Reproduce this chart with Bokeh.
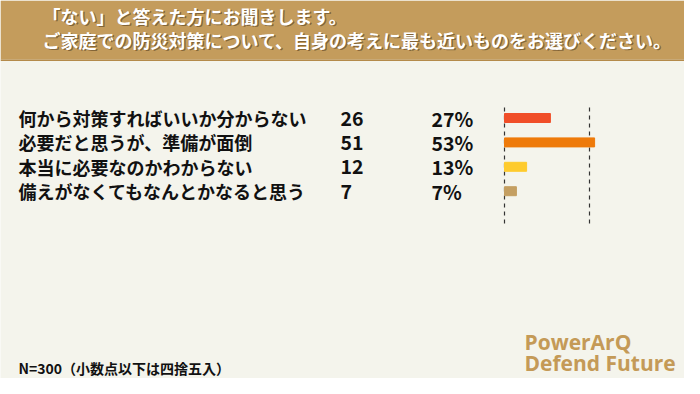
from bokeh.plotting import figure
from bokeh.models import Range1d, ColumnDataSource
from bokeh.core.properties import value
from bokeh.embed import file_html
from bokeh.resources import INLINE

# ---- data ----
title_lines = ["「ない」と答えた方にお聞きします。",
               "ご家庭での防災対策について、自身の考えに最も近いものをお選びください。"]
categories = ["何から対策すればいいか分からない",
              "必要だと思うが、準備が面倒",
              "本当に必要なのかわからない",
              "備えがなくてもなんとかなると思う"]
counts = [26, 51, 12, 7]
percents = [27, 53, 13, 7]
bar_colors = ["#F04E28", "#EE7A0A", "#FECB2E", "#C49F62"]
grid_values = [0, 50]
footnote = "N=300（小数点以下は四捨五入）"
brand_lines = ["PowerArQ", "Defend Future"]

# ---- layout constants (pixels inside the figure) ----
W, H = 684, 378
S = 1.70          # px per percent
X0 = 504          # px of 0%
ROW0 = 117.5      # px of first row centre
ROWH = 24.4       # px between rows

def px_x(px):
    return (px - X0) / S

def px_y(px):
    return (px - ROW0) / ROWH

JP = value("Noto Sans CJK JP")
BG = "#F4F4EC"
GOLD = "#C49C5C"

p = figure(width=W, height=H, output_backend="svg", toolbar_location=None,
           x_range=Range1d(px_x(0), px_x(W)), y_range=Range1d(px_y(H), px_y(0)),
           min_border=0, background_fill_color=BG, border_fill_color=BG)
p.axis.visible = False
p.grid.visible = False
p.outline_line_color = None

# header band
p.quad(left=[px_x(0)], right=[px_x(W)], top=[px_y(0)], bottom=[px_y(59)],
       fill_color=GOLD, line_color=None)
p.quad(left=[px_x(0)], right=[px_x(W)], top=[px_y(59)], bottom=[px_y(60.5)],
       fill_color="#B48A4A", line_color=None)

tsrc = ColumnDataSource(dict(x=[px_x(42), px_x(42)], y=[px_y(15), px_y(39)], t=title_lines))
p.text(x="x", y="y", text="t", source=tsrc, x_offset=1.5, y_offset=1.5,
       text_color="#4a3518", text_alpha=0.55, text_font=JP, text_font_style="bold",
       text_font_size="18px", text_baseline="middle")
p.text(x="x", y="y", text="t", source=tsrc,
       text_color="white", text_font=JP, text_font_style="bold",
       text_font_size="18px", text_baseline="middle")

# rows
idx = list(range(len(categories)))
src = ColumnDataSource(dict(
    y=idx, cat=categories,
    cnt=[str(c) for c in counts],
    pct=[f"{v}%" for v in percents],
    pv=percents, color=bar_colors,
    lx=[px_x(18)] * len(idx), cx=[px_x(340)] * len(idx), qx=[px_x(431)] * len(idx),
))
p.text(x="lx", y="y", text="cat", source=src, text_color="#111111",
       text_font=JP, text_font_style="bold", text_font_size="18px",
       text_baseline="middle", text_align="left")
for col, xcol in [("cnt", "cx"), ("pct", "qx")]:
    p.text(x=xcol, y="y", text=col, source=src, text_color="#111111",
           text_font=JP, text_font_style="bold", text_font_size="19.5px",
           text_baseline="middle", text_align="left")

# dashed reference lines
p.segment(x0=grid_values, x1=grid_values, y0=[px_y(107)] * 2, y1=[px_y(226)] * 2,
          line_color="#333333", line_width=1.2, line_dash="4 4")

# bars
p.hbar(y="y", left=0, right="pv", height=9 / ROWH, source=src,
       fill_color="color", line_color="color")

# footnote
p.text(x=[px_x(18)], y=[px_y(367)], text=[footnote], text_color="#111111",
       text_font=JP, text_font_style="bold", text_font_size="14px",
       text_baseline="middle")

# brand
p.text(x=[px_x(524), px_x(524)], y=[px_y(341), px_y(362)], text=brand_lines,
       text_color="#C49A57", text_font=value("Open Sans"), text_font_style="bold",
       text_font_size="21px", text_baseline="middle")

open("out.html", "w").write(file_html(p, INLINE))
